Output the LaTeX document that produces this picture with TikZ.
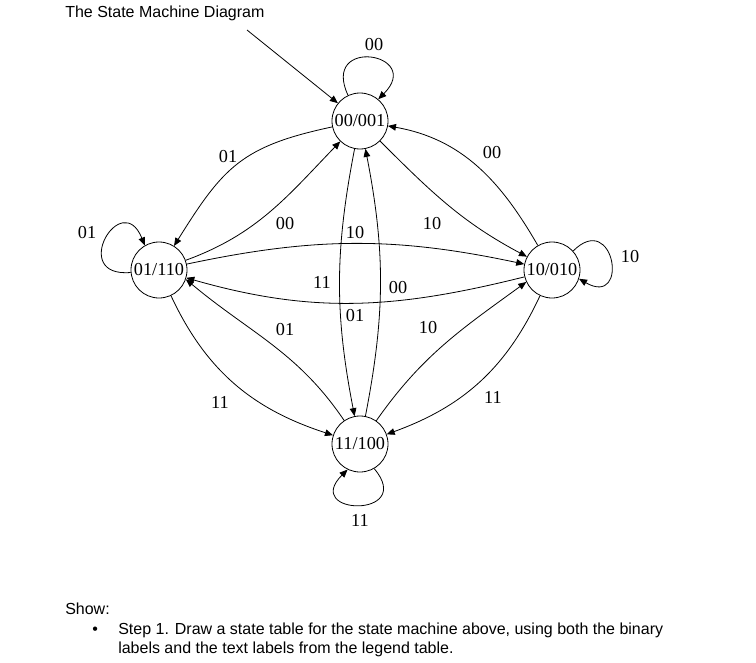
\documentclass[tikz,border=0pt]{standalone}
\usepackage{fontspec}
\setmainfont{Liberation Serif}
\newfontfamily\arialfont{Liberation Sans}
\usetikzlibrary{arrows.meta}

\begin{document}
\begin{tikzpicture}[x=0.75pt,y=0.75pt,
	state/.style={draw,circle,line width=0.6pt,minimum size=42pt,inner sep=0pt,font=\fontsize{13.7}{16}\selectfont},
	lbl/.style={inner sep=0pt,font=\fontsize{13.7}{16}\selectfont},
	edge/.style={line width=0.6pt,-{Triangle[length=6pt,width=5pt]}},
	txt/.style={anchor=base west,inner sep=0pt,font=\arialfont\fontsize{12}{14}\selectfont}]
	\useasboundingbox (0,0) rectangle (756,-663);
	\node[txt] (title) at (65,-17.5) {The State Machine Diagram};
	\node[state] (s00) at (360,-121) {00/001};
	\node[state] (s01) at (159,-270) {01/110};
	\node[state] (s10) at (552,-270) {10/010};
	\node[state] (s11) at (360,-444) {11/100};
	\coordinate (init) at (247,-30);
	\draw[edge] (init) -- (s00);
	\draw[edge] (s00.115) to[out=115,in=45,distance=49pt] (s00.50) node[lbl] at (374,-45) {00};
	\draw[edge] (s00) to[out=192,in=58,looseness=1.2] (s01) node[lbl] at (228,-157) {01};
	\draw[edge] (s01) to[out=20,in=226] (s00) node[lbl] at (285,-224) {00};
	\draw[edge] (s00) to[out=259,in=101] (s11) node[lbl] at (322,-282) {11};
	\draw[edge] (s11) to[out=79,in=281] (s00) node[lbl] at (398,-288) {00};
	\draw[edge] (s00) to[out=-45,in=152] (s10) node[lbl] at (432,-224) {10};
	\draw[edge] (s10) to[out=120,in=-10] (s00) node[lbl] at (492,-153) {00};
	\draw[edge] (s01) to[out=12,in=168] (s10) node[lbl] at (355,-233) {10};
	\draw[edge] (s10) to[out=194,in=-16] (s01) node[lbl] at (355,-316) {01};
	\draw[edge] (s01.185) to[out=185,in=112,distance=47pt] (s01.120) node[lbl] at (87,-233) {01};
	\draw[edge] (s10.42) to[out=45,in=-30,distance=44pt] (s10.-18) node[lbl] at (630,-257) {10};
	\draw[edge] (s01) to[out=-65,in=162] (s11) node[lbl] at (220,-402) {11};
	\draw[edge] (s11) to[out=124,in=-40] (s01.-19) node[lbl] at (285,-330) {01};
	\draw[edge] (s11) to[out=55,in=216] (s10.205) node[lbl] at (428,-328) {10};
	\draw[edge] (s10) to[out=245,in=20] (s11) node[lbl] at (493,-397) {11};
	\draw[edge] (s11.-60) to[out=-50,in=-135,distance=49pt] (s11.-116) node[lbl] at (360,-520) {11};
	\node[txt] (show) at (65,-614) {Show:};
	\node[txt] (dot) at (92,-634.5) {•};
	\node[txt] (line1) at (118,-634.5) {Step 1. Draw a state table for the state machine above, using both the binary};
	\node[txt] (line2) at (118,-653) {labels and the text labels from the legend table.};
\end{tikzpicture}
\end{document}
